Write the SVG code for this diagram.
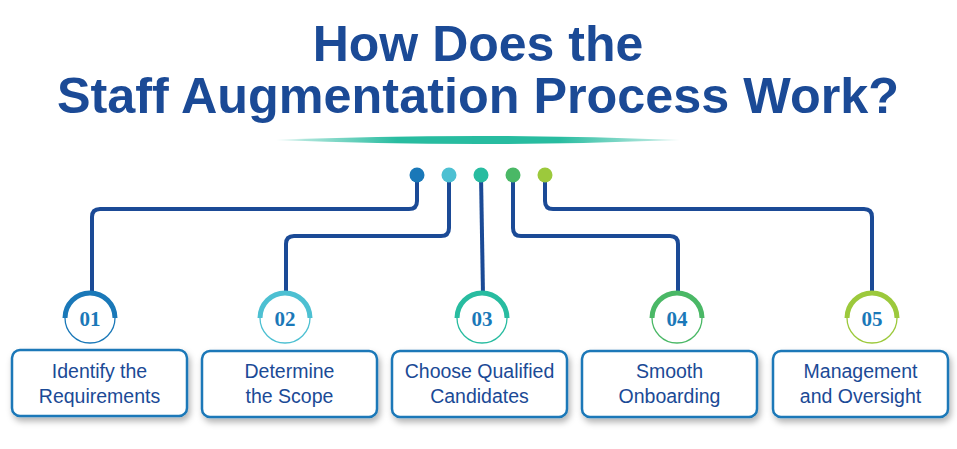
<svg xmlns="http://www.w3.org/2000/svg" width="957" height="449" viewBox="0 0 957 449">
<defs>
<style>
.t{font-family:"Liberation Sans",Arial,sans-serif;font-weight:bold;fill:#1b4a96;font-size:50px;text-anchor:middle}
.c{fill:none;stroke:#1b4a96;stroke-width:4;stroke-linejoin:round}
.box{fill:#fff;stroke:#1a78b8;stroke-width:2.5}
.lbl{font-family:"Liberation Sans",Arial,sans-serif;fill:#1b4a96;font-size:19.5px;text-anchor:middle}
.num{font-family:"Liberation Serif",serif;font-weight:bold;fill:#1a78b8;font-size:21px;text-anchor:middle}
.thin{fill:none;stroke-width:1.3}
.arc{fill:none;stroke-width:5}
</style>
<linearGradient id="g" x1="0" x2="1"><stop offset="0" stop-color="#28bca0" stop-opacity="0.2"/><stop offset="0.3" stop-color="#28bca0"/><stop offset="0.7" stop-color="#28bca0"/><stop offset="1" stop-color="#28bca0" stop-opacity="0.2"/></linearGradient>
<filter id="sh" x="-10%" y="-10%" width="125%" height="140%"><feDropShadow dx="2" dy="4" stdDeviation="3" flood-color="#000" flood-opacity="0.3"/></filter>
</defs>
<rect width="957" height="449" fill="#fff"/>
<g id="title">
<text class="t" x="478" y="61">How Does the</text>
<text class="t" x="478" y="113" textLength="842" lengthAdjust="spacingAndGlyphs">Staff Augmentation Process Work?</text>
<path d="M276 140 Q478 132 680 140 Q478 148 276 140 Z" fill="url(#g)"/>
</g>
<g id="connectors">
<path class="c" d="M417 175 V201 Q417 209 409 209 H100 Q92 209 92 217 V295"/>
<path class="c" d="M449 175 V228 Q449 236 441 236 H294 Q286 236 286 244 V295"/>
<path class="c" d="M481 175 L483 295"/>
<path class="c" d="M513 175 V228 Q513 236 521 236 H670 Q678 236 678 244 V295"/>
<path class="c" d="M545 175 V201 Q545 209 553 209 H864 Q872 209 872 217 V295"/>
</g>
<g id="dots">
<circle cx="417" cy="175" r="7.5" fill="#1a78b8"/>
<circle cx="449" cy="175" r="7.5" fill="#4dc0d2"/>
<circle cx="481" cy="175" r="7.5" fill="#28bca0"/>
<circle cx="513" cy="175" r="7.5" fill="#4ab866"/>
<circle cx="545" cy="175" r="7.5" fill="#9cc93c"/>
</g>
<g id="node1">
<circle class="thin" cx="90" cy="318" r="25" stroke="#1a78b8"/>
<path class="arc" d="M65 318 A25 25 0 0 1 115 318" stroke="#1a78b8"/>
<text class="num" x="90" y="326">01</text>
<rect class="box" x="12" y="350" width="175" height="66" rx="8" filter="url(#sh)"/>
<text class="lbl" x="99.5" y="378">Identify the</text>
<text class="lbl" x="99.5" y="403">Requirements</text>
</g>
<g id="node2">
<circle class="thin" cx="285" cy="318" r="25" stroke="#4dc0d2"/>
<path class="arc" d="M260 318 A25 25 0 0 1 310 318" stroke="#4dc0d2"/>
<text class="num" x="285" y="326">02</text>
<rect class="box" x="202" y="351" width="175" height="66" rx="8" filter="url(#sh)"/>
<text class="lbl" x="289.5" y="378">Determine</text>
<text class="lbl" x="289.5" y="403">the Scope</text>
</g>
<g id="node3">
<circle class="thin" cx="482" cy="318" r="25" stroke="#28bca0"/>
<path class="arc" d="M457 318 A25 25 0 0 1 507 318" stroke="#28bca0"/>
<text class="num" x="482" y="326">03</text>
<rect class="box" x="392" y="351" width="175" height="66" rx="8" filter="url(#sh)"/>
<text class="lbl" x="479.5" y="378">Choose Qualified</text>
<text class="lbl" x="479.5" y="403">Candidates</text>
</g>
<g id="node4">
<circle class="thin" cx="677" cy="318" r="25" stroke="#4ab866"/>
<path class="arc" d="M652 318 A25 25 0 0 1 702 318" stroke="#4ab866"/>
<text class="num" x="677" y="326">04</text>
<rect class="box" x="582" y="351" width="175" height="66" rx="8" filter="url(#sh)"/>
<text class="lbl" x="669.5" y="378">Smooth</text>
<text class="lbl" x="669.5" y="403">Onboarding</text>
</g>
<g id="node5">
<circle class="thin" cx="872" cy="318" r="25" stroke="#9cc93c"/>
<path class="arc" d="M847 318 A25 25 0 0 1 897 318" stroke="#9cc93c"/>
<text class="num" x="872" y="326">05</text>
<rect class="box" x="773" y="351" width="175" height="66" rx="8" filter="url(#sh)"/>
<text class="lbl" x="860.5" y="378">Management</text>
<text class="lbl" x="860.5" y="403">and Oversight</text>
</g>
</svg>
